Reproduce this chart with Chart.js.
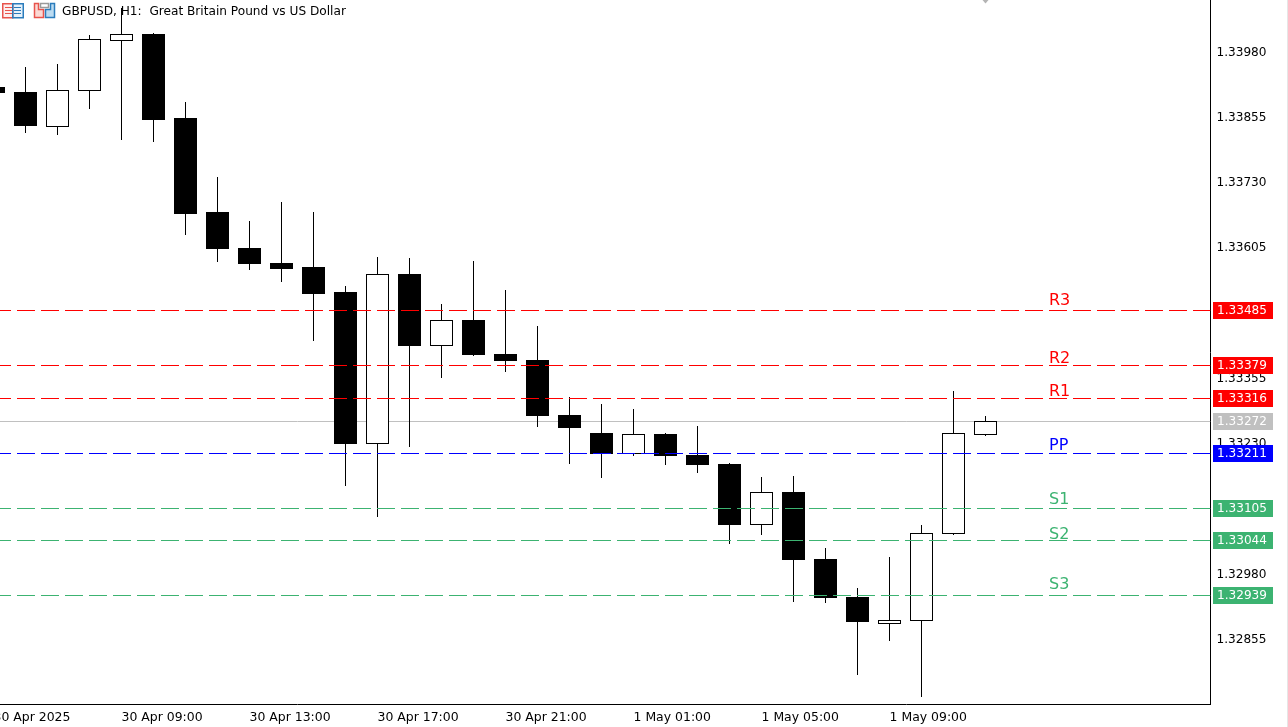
<!DOCTYPE html>
<html>
<head>
<meta charset="utf-8">
<title>GBPUSD H1</title>
<script src="https://cdn.jsdelivr.net/npm/chart.js@4/dist/chart.umd.min.js"></script>
<style>
html, body { margin: 0; padding: 0; background: #fff; overflow: hidden; }
#wrap { position: absolute; left: -7px; top: 0; width: 1295px; height: 727px; }
#edge { position: absolute; left: 1287px; top: 0; width: 1px; height: 727px; background: #e6e6e6; }
</style>
</head>
<body>
<div id="wrap"><canvas id="myChart"></canvas></div>
<div id="edge"></div>
<script>
"use strict";

// one entry per hourly candle, 30 Apr 05:00 onwards
const OPENS = [1.33914,1.33904,1.33838,1.33906,1.34002,1.34015,1.33854,1.33674,1.33605,1.33577,1.33569,1.33521,
    1.33229,1.33556,1.33417,1.33467,1.33402,1.33391,1.33285,1.33251,1.33210,1.33249,1.33209,1.33192,
    1.33074,1.33138,1.33010,1.32937,1.32886,1.32890,1.33057,1.33248];
const CLOSES = [1.33902,1.33839,1.33908,1.34005,1.34015,1.33851,1.33671,1.33604,1.33575,1.33566,1.33517,1.33230,
    1.33555,1.33418,1.33467,1.33401,1.33389,1.33284,1.33261,1.33211,1.33249,1.33207,1.33190,1.33075,
    1.33137,1.33008,1.32935,1.32888,1.32892,1.33059,1.33251,1.33274];
const HIGHS = [1.33918,1.33952,1.33958,1.34013,1.34065,1.34017,1.33885,1.33741,1.33657,1.33694,1.33674,1.33533,
    1.33588,1.33586,1.33498,1.33581,1.33525,1.33456,1.33320,1.33306,1.33297,1.33251,1.33264,1.33193,
    1.33167,1.33169,1.33031,1.32954,1.33013,1.33075,1.33331,1.33284];
const LOWS = [1.33899,1.33826,1.33822,1.33871,1.33813,1.33809,1.33630,1.33579,1.33563,1.33540,1.33427,1.33150,
    1.33091,1.33225,1.33357,1.33398,1.33368,1.33263,1.33192,1.33165,1.33206,1.33190,1.33175,1.33039,
    1.33056,1.32928,1.32926,1.32788,1.32853,1.32746,1.33055,1.33246];

const PRICE_TICKS = [1.33980,1.33855,1.33730,1.33605,1.33480,1.33355,1.33230,1.33105,1.32980,1.32855];
const TIME_TICKS = [0,4,8,12,16,20,24,28];
const TIME_LABELS = ["30 Apr 2025","30 Apr 09:00","30 Apr 13:00","30 Apr 17:00","30 Apr 21:00","1 May 01:00","1 May 05:00","1 May 09:00"];

const LEVEL_NAMES = ["R3","R2","R1","PP","S1","S2","S3"];
const LEVEL_VALUES = [1.33485,1.33379,1.33316,1.33211,1.33105,1.33044,1.32939];
const CURRENT_PRICE = 1.33272;

const TITLE = "GBPUSD, H1:  Great Britain Pound vs US Dollar";

const FONT = "'DejaVu Sans'";
const X_MIN = -0.0156, X_MAX = 38.03;
const Y_MIN = 1.327318, Y_MAX = 1.340805;

function levelColor(name) {
    if (name[0] === "R") return "#ff0000";
    if (name[0] === "P") return "#0000ff";
    return "#3cb371";
}

function isUp(i) { return CLOSES[i] >= OPENS[i]; }

function wickData() {
    return HIGHS.map((h, i) => ({ x: i, y: [LOWS[i], h] }));
}

function bodyData() {
    return OPENS.map((o, i) => ({ x: i, y: [Math.min(o, CLOSES[i]), Math.max(o, CLOSES[i])] }));
}

function hLine(v) {
    return [{ x: X_MIN, y: v }, { x: X_MAX, y: v }];
}

// pixel row a level falls on
function rowOf(py) { return Math.floor(py - 0.5); }

const datasets = [];

datasets.push({
    type: "line", label: "current", data: hLine(CURRENT_PRICE), order: 10,
    borderColor: "#c0c0c0", borderWidth: 1, pointRadius: 0
});
datasets.push({
    type: "bar", label: "wick", data: wickData(), order: 9,
    backgroundColor: "#000", barThickness: 1, grouped: false, inflateAmount: 0
});
datasets.push({
    type: "bar", label: "body", data: bodyData(), order: 8,
    backgroundColor: OPENS.map((o, i) => isUp(i) ? "#fff" : "#000"),
    borderColor: "#000", borderWidth: 1, borderSkipped: false,
    barThickness: 23, grouped: false, inflateAmount: 0
});
LEVEL_NAMES.forEach((name, i) => {
    datasets.push({
        type: "line", label: name, data: hLine(LEVEL_VALUES[i]), order: 1,
        borderColor: levelColor(name), borderWidth: 1, borderDash: [18, 6], pointRadius: 0
    });
});

// MT5 draws everything on whole pixels, so snap the elements after the scales placed them
const snap = {
    id: "snap",
    afterDatasetsUpdate(chart) {
        chart.data.datasets.forEach((ds, i) => {
            chart.getDatasetMeta(i).data.forEach(el => {
                if (ds.type === "line") {
                    el.y = rowOf(el.y) + 0.5;
                } else {
                    el.x = Math.floor(el.x) + 0.5;
                    el.y = Math.round(el.y);
                    el.base = Math.round(el.base);
                }
            });
        });
    }
};

function drawIcons(ctx) {
    const RED = "#e8534c", BLUE = "#2b7cbc";
    // table icon
    ctx.fillStyle = "#fdeeee";
    ctx.fillRect(3, 4, 9, 13);
    ctx.fillStyle = "#e6f1fa";
    ctx.fillRect(13, 4, 10, 13);
    ctx.lineWidth = 1.5;
    ctx.strokeStyle = RED;
    ctx.strokeRect(2.75, 3.75, 10, 14);
    ctx.strokeStyle = BLUE;
    ctx.strokeRect(12.75, 3.75, 10.5, 14);
    ctx.fillStyle = RED;
    [7, 10, 13].forEach(r => ctx.fillRect(5, r, 7, 1));
    ctx.fillStyle = BLUE;
    [7, 10, 13].forEach(r => ctx.fillRect(14, r, 7, 1));
    // template icon
    ctx.fillStyle = "#fbd9d4";
    ctx.strokeStyle = RED;
    ctx.beginPath();
    ctx.moveTo(34.5, 3.5); ctx.lineTo(38.5, 3.5); ctx.lineTo(38.5, 9.5); ctx.lineTo(43.5, 9.5);
    ctx.lineTo(43.5, 17.5); ctx.lineTo(34.5, 17.5); ctx.closePath();
    ctx.fill(); ctx.stroke();
    ctx.fillStyle = "#bcdcf2";
    ctx.strokeStyle = BLUE;
    ctx.beginPath();
    ctx.moveTo(45.5, 9.5); ctx.lineTo(50.5, 9.5); ctx.lineTo(50.5, 3.5); ctx.lineTo(54.5, 3.5);
    ctx.lineTo(54.5, 17.5); ctx.lineTo(45.5, 17.5); ctx.closePath();
    ctx.fill(); ctx.stroke();
    ctx.strokeStyle = "#9a9a9a";
    ctx.strokeRect(40.5, 3.5, 8, 4);
}

// level names, price tags, header text
const overlay = {
    id: "overlay",
    afterDraw(chart) {
        const ctx = chart.ctx, y = chart.scales.y, x = chart.scales.x;
        const LIFT = { R3: 5, R2: 2, R1: 2, PP: 3, S1: 4, S2: 1, S3: 6 };
        const tagX = chart.chartArea.right + 2.5;
        ctx.save();
        ctx.textAlign = "left";

        function tag(value, color) {
            const row = rowOf(y.getPixelForValue(value));
            ctx.fillStyle = color;
            ctx.fillRect(tagX, row - 8, 60, 17);
            ctx.fillStyle = "#fff";
            ctx.font = "12.1px " + FONT;
            ctx.textBaseline = "middle";
            ctx.fillText(value.toFixed(5), tagX + 4, row + 1);
        }

        LEVEL_NAMES.forEach((name, i) => {
            const row = rowOf(y.getPixelForValue(LEVEL_VALUES[i]));
            ctx.fillStyle = levelColor(name);
            ctx.font = "16px " + FONT;
            ctx.textBaseline = "alphabetic";
            ctx.fillText(name, 1056, row - LIFT[name]);
            tag(LEVEL_VALUES[i], levelColor(name));
        });
        tag(CURRENT_PRICE, "#c0c0c0");

        // little marker above the last candle
        const mx = Math.floor(x.getPixelForValue(OPENS.length - 1)) + 0.5;
        ctx.fillStyle = "#b4b4b4";
        ctx.beginPath();
        ctx.moveTo(mx - 3, 0); ctx.lineTo(mx + 3, 0); ctx.lineTo(mx, 3.5); ctx.closePath();
        ctx.fill();

        ctx.translate(7, 0);
        drawIcons(ctx);
        ctx.fillStyle = "#000";
        ctx.font = "12.15px " + FONT;
        ctx.textBaseline = "middle";
        ctx.fillText(TITLE, 62, 12);
        ctx.restore();
    }
};

new Chart(document.getElementById("myChart"), {
    type: "bar",
    data: { datasets: datasets },
    plugins: [snap, overlay],
    options: {
        responsive: true,
        maintainAspectRatio: false,
        animation: false,
        layout: { padding: 0 },
        plugins: { legend: { display: false }, tooltip: { enabled: false } },
        scales: {
            x: {
                type: "linear", min: X_MIN, max: X_MAX, offset: false,
                grid: { display: false, drawTicks: true, tickLength: 4, tickColor: "#000" },
                border: { color: "#000", width: 1 },
                afterBuildTicks(axis) { axis.ticks = TIME_TICKS.map(v => ({ value: v })); },
                ticks: {
                    autoSkip: false, maxRotation: 0, align: "start", padding: 2, color: "#000",
                    font: { family: FONT, size: 12.45 },
                    callback(v) { return TIME_LABELS[TIME_TICKS.indexOf(v)]; }
                },
                afterFit(axis) { axis.height = 23; axis.paddingLeft = 0; axis.paddingRight = 0; }
            },
            y: {
                position: "right", min: Y_MIN, max: Y_MAX,
                grid: { display: false, tickLength: 3, tickColor: "#000" },
                border: { color: "#000", width: 1 },
                afterBuildTicks(axis) { axis.ticks = PRICE_TICKS.map(v => ({ value: v })); },
                ticks: {
                    autoSkip: false, padding: 3, color: "#000",
                    font: { family: FONT, size: 12.1 },
                    callback(v) { return v.toFixed(5); }
                },
                afterFit(axis) { axis.width = 77.5; axis.paddingTop = 0; axis.paddingBottom = 0; }
            }
        }
    }
});
</script>
</body>
</html>
